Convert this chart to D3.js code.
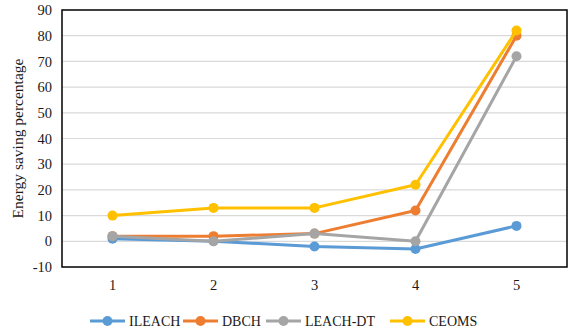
<!DOCTYPE html>
<html><head><meta charset="utf-8">
<script src="https://cdn.jsdelivr.net/npm/d3@7/dist/d3.min.js"></script>
<style>body{margin:0;background:#fff}svg{display:block;font-family:"Liberation Serif","Times New Roman",serif}</style>
</head><body><svg id="c" width="570" height="331"></svg>
<script>
const categories = ["1","2","3","4","5"];
const seriesNames = ["ILEACH","DBCH","LEACH-DT","CEOMS"];
const ileach = [1, 0, -2, -3, 6];
const dbch = [2, 2, 3, 12, 80];
const leachdt = [2, 0, 3, 0, 72];
const ceoms = [10, 13, 13, 22, 82];
const colors = ["#5B9BD5","#ED7D31","#A5A5A5","#FFC000"];
const yTicks = [-10,0,10,20,30,40,50,60,70,80,90];
const yLabel = "Energy saving percentage";

const series = [ileach, dbch, leachdt, ceoms];
const svg = d3.select("#c");
const L=62, R=567, T=10, B=267;
const F = "Liberation Serif, Times New Roman, serif";
const x = d3.scaleBand().domain(categories).range([L,R]);
const y = d3.scaleLinear().domain([-10,90]).range([B,T]);

// grid
svg.append("g").selectAll("line").data(yTicks.filter(d=>d>-10 && d<90)).join("line")
  .attr("x1",L).attr("x2",R).attr("y1",d=>y(d)).attr("y2",d=>y(d))
  .attr("stroke","#d9d9d9").attr("stroke-width",1.2);

// y labels
const ya = d3.axisLeft(y).tickValues(yTicks).tickSize(0).tickPadding(10).tickFormat(d=>String(d));
const gy = svg.append("g").attr("transform",`translate(${L},0)`).call(ya);
gy.attr("font-family",F);
gy.select(".domain").remove();
gy.selectAll("text").attr("font-size",14.5).attr("fill","#1a1a1a");

const xa = d3.axisBottom(x).tickSize(0).tickPadding(13);
const gx = svg.append("g").attr("transform",`translate(0,${B})`).call(xa);
gx.attr("font-family",F);
gx.select(".domain").remove();
gx.selectAll("text").attr("font-size",14.5).attr("fill","#1a1a1a");

// border
svg.append("rect").attr("x",L).attr("y",T).attr("width",R-L).attr("height",B-T)
  .attr("fill","none").attr("stroke","#000").attr("stroke-width",1.5);

// y title
svg.append("text").attr("transform",`translate(23,${(T+B)/2}) rotate(-90)`)
  .attr("text-anchor","middle").attr("font-size",15.5).attr("fill","#1a1a1a").text(yLabel);

const line = d3.line().x((d,i)=>x(categories[i])+x.bandwidth()/2).y(d=>y(d));
series.forEach((s,k)=>{
  const g = svg.append("g");
  g.append("path").datum(s).attr("d",line).attr("fill","none")
    .attr("stroke",colors[k]).attr("stroke-width",3).attr("stroke-linejoin","round");
  g.selectAll("circle").data(s).join("circle")
    .attr("cx",(d,i)=>x(categories[i])+x.bandwidth()/2).attr("cy",d=>y(d))
    .attr("r",5).attr("fill",colors[k]);
});

// legend
const legX = [90,183,266,390];
const ly = 321;
seriesNames.forEach((n,k)=>{
  const g = svg.append("g").attr("transform",`translate(${legX[k]},${ly})`);
  g.append("line").attr("x1",0).attr("x2",35).attr("stroke",colors[k]).attr("stroke-width",3);
  g.append("circle").attr("cx",17.5).attr("r",5).attr("fill",colors[k]);
  g.append("text").attr("x",39).attr("y",5).attr("font-size",14).attr("fill","#1a1a1a").text(n);
});
</script></body></html>
